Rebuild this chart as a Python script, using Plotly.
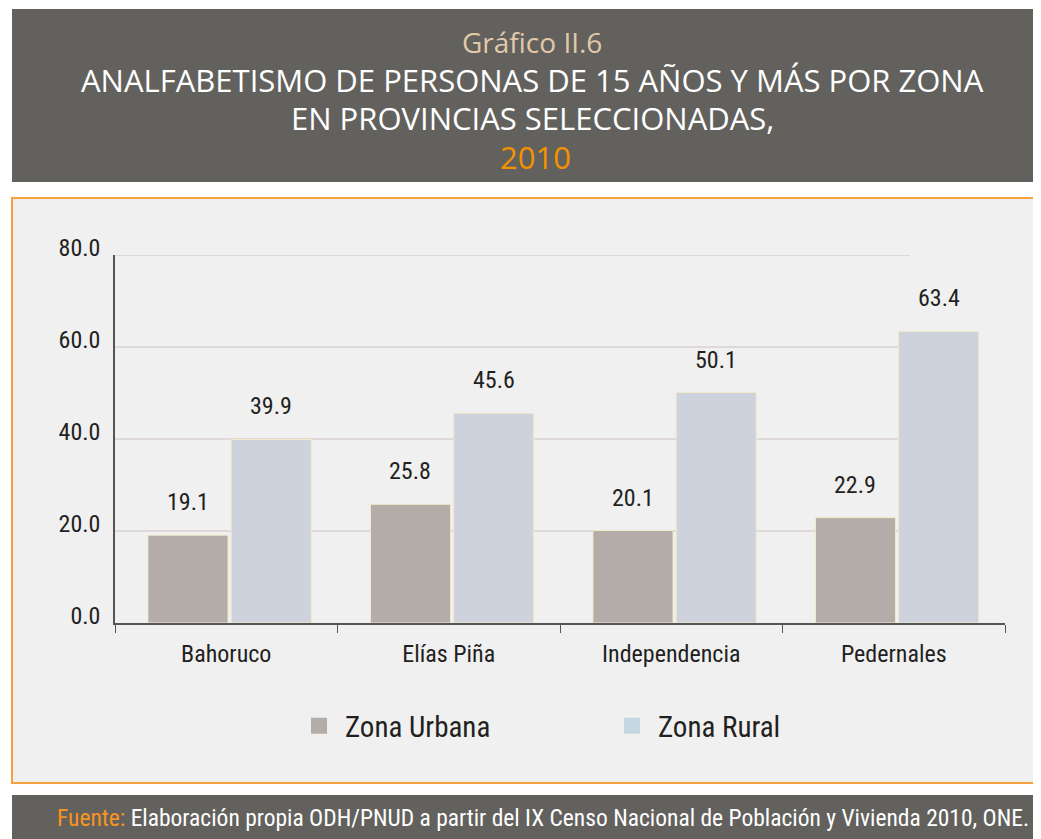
import plotly.graph_objects as go

categories = ["Bahoruco", "Elías Piña", "Independencia", "Pedernales"]
urbana = [19.1, 25.8, 20.1, 22.9]
rural = [39.9, 45.6, 50.1, 63.4]
y_ticks = [0, 20, 40, 60, 80]
y_tick_labels = ["0.0", "20.0", "40.0", "60.0", "80.0"]

# page is offset by the default 8px body margin
OFF = 8
W, H = 1041 - OFF, 839 - OFF
def px(x):
    return (x - OFF) / W
def py(y):
    return 1 - (y - OFF) / H

FONT = "Liberation Sans Narrow, Roboto Condensed, Roboto, sans-serif"
TITLE_FONT = "Open Sans, Noto Sans, sans-serif"
DARK = "#231f20"
URB_COLOR = "#b4aca8"
RUR_COLOR = "#cdd2dc"
BAR_EDGE = "#f1ebc9"

X0, X1 = 115, 1005   # plot area (page px)
Y0, Y1 = 255, 623
BAR_W = 0.36
URB_OFF, RUR_OFF = -0.352, 0.022   # bar left edge relative to category centre

fig = go.Figure()
fig.add_trace(go.Bar(name="Zona Urbana", x=categories, y=urbana, showlegend=False,
                     width=BAR_W, offset=URB_OFF,
                     marker=dict(color=URB_COLOR, line=dict(color=BAR_EDGE, width=1))))
fig.add_trace(go.Bar(name="Zona Rural", x=categories, y=rural, showlegend=False,
                     width=BAR_W, offset=RUR_OFF,
                     marker=dict(color=RUR_COLOR, line=dict(color=BAR_EDGE, width=1))))
# legend entries (bigger square symbols)
fig.add_trace(go.Scatter(name="Zona Urbana", x=[None], y=[None], mode="markers",
                         marker=dict(symbol="square", size=16, color=URB_COLOR)))
fig.add_trace(go.Scatter(name="Zona Rural", x=[None], y=[None], mode="markers",
                         marker=dict(symbol="square", size=16, color="#c5d8e2")))

shapes = [
    dict(type="rect", xref="paper", yref="paper", x0=px(12), x1=px(1035), y0=py(9), y1=py(182),
         fillcolor="#63615e", line=dict(width=0), layer="below"),
    dict(type="rect", xref="paper", yref="paper", x0=px(12), x1=px(1045), y0=py(198), y1=py(783),
         fillcolor="#f0f0f0", line=dict(color="#f7a040", width=2), layer="below"),
    dict(type="rect", xref="paper", yref="paper", x0=px(12), x1=px(1045), y0=py(795), y1=py(845),
         fillcolor="#63615e", line=dict(width=0), layer="below"),
]
for t in y_ticks[1:]:
    shapes.append(dict(type="line", xref="paper", yref="y", x0=px(X0), x1=px(910), y0=t, y1=t,
                       line=dict(color="#d8d1d1", width=1.5), layer="below"))

annotations = [
    dict(text="Gráfico II.6", x=px(532), y=py(42), font=dict(family=TITLE_FONT, size=28, color="#e2c9a8")),
    dict(text="ANALFABETISMO DE PERSONAS DE 15 AÑOS Y MÁS POR ZONA", x=px(532), y=py(80),
         font=dict(family=TITLE_FONT, size=31, color="white")),
    dict(text="EN PROVINCIAS SELECCIONADAS,", x=px(532), y=py(118),
         font=dict(family=TITLE_FONT, size=31, color="white")),
    dict(text="2010", x=px(535), y=py(157), font=dict(family=TITLE_FONT, size=31, color="#f39200")),
    dict(text="<span style='color:#f7941d'>Fuente:</span> Elaboración propia ODH/PNUD a partir del IX Censo Nacional de Población y Vivienda 2010, ONE.",
         x=px(543), y=py(818), font=dict(family=FONT, size=23.5, color="white")),
]
for a in annotations:
    a.update(xref="paper", yref="paper", showarrow=False, xanchor="center", yanchor="middle")

# value labels above bars
slot_px = (X1 - X0) / len(categories)
for series, off in ((urbana, URB_OFF), (rural, RUR_OFF)):
    shift = (off + BAR_W / 2) * slot_px
    for c, v in zip(categories, series):
        annotations.append(dict(x=c, y=v, xref="x", yref="y", text=f"{v:.1f}", showarrow=False,
                                xshift=shift, yshift=33, xanchor="center", yanchor="middle",
                                font=dict(family=FONT, size=24, color=DARK)))

fig.update_layout(
    width=W, height=H,
    margin=dict(l=0, r=0, t=0, b=0, autoexpand=False),
    paper_bgcolor="white", plot_bgcolor="rgba(0,0,0,0)",
    barmode="overlay",
    shapes=shapes, annotations=annotations,
    showlegend=True,
    legend=dict(orientation="h", x=px(293), y=py(726), xanchor="left", yanchor="middle",
                font=dict(family=FONT, size=29, color=DARK), entrywidth=256, itemwidth=42,
                bgcolor="rgba(0,0,0,0)", itemclick=False, itemdoubleclick=False),
    xaxis=dict(domain=[px(X0), px(X1)], showline=True, linecolor="#555555", linewidth=1.5,
               ticks="outside", tickson="boundaries", ticklen=8, tickcolor="#555555",
               tickfont=dict(family=FONT, size=24, color=DARK), ticklabelstandoff=8,
               showgrid=False, zeroline=False, automargin=False),
    yaxis=dict(domain=[py(Y1), py(Y0)], range=[0, 80], tickvals=y_ticks, ticktext=y_tick_labels,
               showline=True, linecolor="#555555", linewidth=1.5, ticks="",
               tickfont=dict(family=FONT, size=24, color=DARK), ticklabelstandoff=8,
               ticklabelshift=-7, showgrid=False, zeroline=False, automargin=False),
)

fig.write_html("out.html")
